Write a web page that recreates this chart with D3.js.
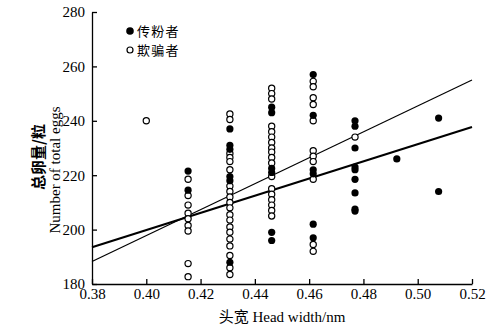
<!DOCTYPE html>
<html><head><meta charset="utf-8">
<script src="https://cdn.jsdelivr.net/npm/d3@7"></script>
<style>body{margin:0;background:#fff}svg{display:block}</style>
</head><body>
<svg id="chart" width="502" height="331"></svg>
<script>
// Data
const pollinators = [
  [0.4154,221.5],[0.4154,214.5],
  [0.4308,237],[0.4308,231],[0.4308,229.5],[0.4308,219.5],[0.4308,218],[0.4308,188],
  [0.4462,245],[0.4462,243],[0.4462,222.5],[0.4462,221],[0.4462,199],[0.4462,196],
  [0.4615,257],[0.4615,242],[0.4615,222],[0.4615,220.5],[0.4615,202],[0.4615,197],
  [0.4769,240],[0.4769,238],[0.4769,230],[0.4769,223],[0.4769,222],[0.4769,218.5],[0.4769,213.5],[0.4769,207.5],[0.4769,206.8],
  [0.4923,226],
  [0.5077,241],[0.5077,214]
];
const deceivers = [
  [0.40,240],
  [0.4154,218.5],[0.4154,212.5],[0.4154,209],[0.4154,206],[0.4154,204],[0.4154,201.5],[0.4154,199.5],[0.4154,187.5],[0.4154,182.7],
  [0.4308,242.5],[0.4308,240.5],[0.4308,228],[0.4308,226.5],[0.4308,225],[0.4308,222],[0.4308,216],[0.4308,214],[0.4308,212],[0.4308,210],
  [0.4308,208],[0.4308,205.5],[0.4308,203.5],[0.4308,201],[0.4308,199],[0.4308,196.5],[0.4308,194],[0.4308,190.5],[0.4308,186],[0.4308,183.5],
  [0.4462,252],[0.4462,250],[0.4462,248],[0.4462,238],[0.4462,236],[0.4462,234],[0.4462,232],[0.4462,230],[0.4462,228.5],[0.4462,226.5],
  [0.4462,224.5],[0.4462,219.5],[0.4462,215],[0.4462,213],[0.4462,211],[0.4462,209],[0.4462,207],[0.4462,205],
  [0.4615,254.5],[0.4615,252.5],[0.4615,248.5],[0.4615,246],[0.4615,240],[0.4615,229],[0.4615,227],[0.4615,225],[0.4615,218.5],[0.4615,194.5],[0.4615,192],
  [0.4769,234]
];
// Regression lines (end points at x-domain limits)
const pollinatorFit = [[0.38,193.5],[0.52,237.7]];
const deceiverFit = [[0.38,188.3],[0.52,255]];
const xTicks = [0.38,0.40,0.42,0.44,0.46,0.48,0.50,0.52];
const yTicks = [180,200,220,240,260,280];
const legendLabels = ["传粉者","欺骗者"];

const svg = d3.select("#chart");
const L = 92, R = 472, T = 12, B = 284;
const x = d3.scaleLinear().domain([0.38,0.52]).range([L,R]);
const y = d3.scaleLinear().domain([180,280]).range([B,T]);
const serif = "'Liberation Serif','Times New Roman',serif";
const cjk = "'Noto Sans CJK SC',sans-serif";

// axes
const xAxis = d3.axisBottom(x).tickValues(xTicks).tickFormat(d3.format(".2f")).tickSizeInner(-5).tickSizeOuter(0).tickPadding(7);
const yAxis = d3.axisLeft(y).tickValues(yTicks).tickFormat(d3.format("d")).tickSizeInner(-5).tickSizeOuter(0).tickPadding(7);
const gx = svg.append("g").attr("transform",`translate(0,${B})`).call(xAxis);
const gy = svg.append("g").attr("transform",`translate(${L},0)`).call(yAxis);
[gx,gy].forEach(g=>{
  g.selectAll("path,line").attr("stroke","#000").attr("stroke-width",1.3);
  g.selectAll("text").attr("font-family",serif).attr("font-size",15).attr("fill","#000");
});
gx.selectAll("text").attr("dy","0.55em");

// regression lines
const line = d3.line().x(d=>x(d[0])).y(d=>y(d[1]));
svg.append("path").datum(deceiverFit).attr("d",line).attr("stroke","#000").attr("stroke-width",1.2).attr("fill","none");
svg.append("path").datum(pollinatorFit).attr("d",line).attr("stroke","#000").attr("stroke-width",2.2).attr("fill","none");

// points
svg.append("g").selectAll("circle").data(deceivers).join("circle")
  .attr("cx",d=>x(d[0])).attr("cy",d=>y(d[1])).attr("r",3.1)
  .attr("fill","#fff").attr("stroke","#000").attr("stroke-width",1.2);
svg.append("g").selectAll("circle").data(pollinators).join("circle")
  .attr("cx",d=>x(d[0])).attr("cy",d=>y(d[1])).attr("r",3.6)
  .attr("fill","#000");

// legend
const lg = svg.append("g");
lg.append("circle").attr("cx",130).attr("cy",31).attr("r",3.8).attr("fill","#000");
lg.append("circle").attr("cx",130).attr("cy",50).attr("r",3).attr("fill","#fff").attr("stroke","#000").attr("stroke-width",1.2);
lg.selectAll("text").data(legendLabels).join("text")
  .attr("x",137).attr("y",(d,i)=>31+i*19).attr("dy","0.36em")
  .attr("font-family",cjk).attr("font-size",13).attr("letter-spacing",1.3).attr("fill","#000")
  .text(d=>d);

// axis titles
svg.append("text").attr("x",x(0.45)).attr("y",322).attr("text-anchor","middle")
  .attr("font-family",serif).attr("font-size",15).attr("fill","#000")
  .html("<tspan font-family=\"'Noto Sans CJK SC',sans-serif\">头宽</tspan> Head width/nm");
svg.append("text").attr("transform","translate(44,157) rotate(-90)").attr("text-anchor","middle")
  .attr("font-family",cjk).attr("font-weight","bold").attr("font-size",15).attr("fill","#000")
  .text("总卵量/粒");
svg.append("text").attr("transform","translate(60,170) rotate(-90)").attr("text-anchor","middle")
  .attr("font-family",serif).attr("font-size",15).attr("fill","#000")
  .text("Number of total eggs");
</script>
</body></html>
